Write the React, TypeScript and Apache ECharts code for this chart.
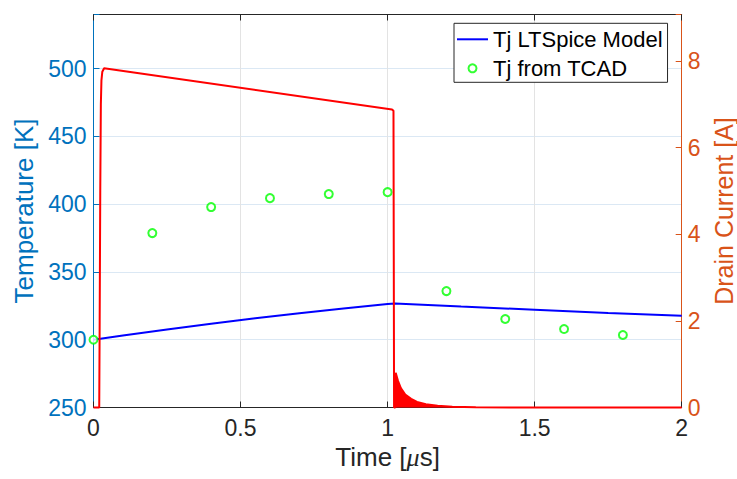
import React, { useEffect, useRef } from "react";
import * as echarts from "echarts";

// Axis tick values
const timeTicks = [0, 0.5, 1, 1.5, 2];
const tempTicks = [250, 300, 350, 400, 450, 500];
const currentTicks = [0, 2, 4, 6, 8];

// Tj from LTSpice model (time in µs, temperature in K)
const ltspiceTime = [0, 0.1, 0.25, 0.4, 0.55, 0.7, 0.85, 1.0, 1.025, 1.25, 1.5, 1.75, 2];
const ltspiceTemp = [300, 303.2, 307.6, 311.8, 315.8, 319.6, 323.1, 326.3, 326.8, 324.5, 322.1, 319.8, 317.7];

// Tj from TCAD
const tcadTime = [0, 0.2, 0.4, 0.6, 0.8, 1.0, 1.2, 1.4, 1.6, 1.8];
const tcadTemp = [300, 378.7, 397.9, 404.5, 407.5, 408.9, 335.9, 315.3, 307.9, 303.5];

// Drain current pulse (A)
const pulseTime = [0, 0.0195, 0.021, 0.023, 0.025, 0.027, 0.03, 0.036, 1.015, 1.02, 1.022, 1.027];
const pulseCurrent = [0, 0, 2, 5, 7.0, 7.55, 7.75, 7.83, 6.88, 6.85, 0, 0];

// Drain current tail after turn-off (A)
const tailTime = [1.027, 1.0275, 1.035, 1.045, 1.06, 1.08, 1.1, 1.13, 1.17, 1.22, 1.3, 1.5, 2];
const tailCurrent = [0, 0.8, 0.62, 0.45, 0.3, 0.2, 0.13, 0.075, 0.04, 0.018, 0.006, 0, 0];

const zip = (xs: number[], ys: number[]) => xs.map((x, i) => [x, ys[i]]);

const FONT = "'Liberation Sans', Arial, Helvetica, sans-serif";
const BLUE_AX = "#0072BD";
const ORANGE_AX = "#D95319";
const DARK = "#262626";

export default function App() {
  const ref = useRef<HTMLDivElement>(null);
  useEffect(() => {
    document.body.style.margin = "0";
    document.body.style.overflow = "hidden";
    if (!ref.current) return;
    const chart = echarts.init(ref.current, undefined, { renderer: "svg", width: 737, height: 479 });
    const option: any = {
      animation: false,
      backgroundColor: "#ffffff",
      textStyle: { fontFamily: FONT },
      grid: {
        left: 93.5,
        top: 14.5,
        width: 588.2,
        height: 393,
        containLabel: false,
        outerBoundsMode: "none",
      },
      legend: {
        data: [
          { name: "Tj LTSpice Model", icon: "path://M0,0 H31 V2 H0 Z", itemStyle: { color: "#0000FF" } },
          { name: "Tj from TCAD" },
        ],
        orient: "vertical",
        left: 454,
        top: 23.3,
        padding: [5, 5, 3, 3],
        itemGap: 7,
        itemWidth: 31,
        itemHeight: 8,
        backgroundColor: "#ffffff",
        borderColor: DARK,
        borderWidth: 1,
        borderRadius: 0,
        textStyle: { fontSize: 22, color: "#000000", fontFamily: FONT },
      },
      xAxis: [
        {
          type: "value",
          position: "bottom",
          min: timeTicks[0],
          max: timeTicks[timeTicks.length - 1],
          interval: 0.5,
          axisLine: { show: true, onZero: false, lineStyle: { color: DARK, width: 1 } },
          axisTick: { show: true, inside: true, length: 6, lineStyle: { color: DARK } },
          axisLabel: { color: DARK, fontSize: 23, margin: 9, fontFamily: FONT },
          splitLine: { show: true, lineStyle: { color: "#e3e3e3", width: 1 } },
          name: "Time [{mu|μ}s]",
          nameLocation: "middle",
          nameGap: 18,
          nameTextStyle: {
            color: DARK,
            fontSize: 26,
            fontFamily: FONT,
            rich: {
              mu: { fontStyle: "italic", fontFamily: "'Liberation Serif', 'DejaVu Serif', serif", fontSize: 26, color: DARK },
            },
          },
        },
        {
          type: "value",
          position: "top",
          min: timeTicks[0],
          max: timeTicks[timeTicks.length - 1],
          interval: 0.5,
          axisLine: { show: true, onZero: false, lineStyle: { color: DARK, width: 1 } },
          axisTick: { show: true, inside: true, length: 6, lineStyle: { color: DARK } },
          axisLabel: { show: false },
          splitLine: { show: false },
        },
      ],
      yAxis: [
        {
          type: "value",
          position: "left",
          min: tempTicks[0],
          max: 540,
          interval: 50,
          axisLine: { show: true, onZero: false, lineStyle: { color: BLUE_AX, width: 1 } },
          axisTick: { show: true, inside: true, length: 6, lineStyle: { color: BLUE_AX } },
          axisLabel: {
            color: BLUE_AX,
            fontSize: 23,
            margin: 7,
            fontFamily: FONT,
            formatter: (v: number) => (tempTicks.includes(v) ? String(v) : ""),
          },
          splitLine: { show: true, lineStyle: { color: "#dbe8f4", width: 1 } },
          name: "Temperature [K]",
          nameLocation: "middle",
          nameRotate: 90,
          nameGap: 53,
          nameTextStyle: { color: BLUE_AX, fontSize: 26, fontFamily: FONT },
        },
        {
          type: "value",
          position: "right",
          min: currentTicks[0],
          max: 9.07,
          interval: 2,
          axisLine: { show: true, onZero: false, lineStyle: { color: ORANGE_AX, width: 1 } },
          axisTick: { show: true, inside: true, length: 6, lineStyle: { color: ORANGE_AX } },
          axisLabel: {
            color: ORANGE_AX,
            fontSize: 23,
            margin: 6,
            fontFamily: FONT,
            formatter: (v: number) => (currentTicks.includes(v) ? String(v) : ""),
          },
          splitLine: { show: false },
          name: "Drain Current [A]",
          nameLocation: "middle",
          nameRotate: 90,
          nameGap: 27,
          nameTextStyle: { color: ORANGE_AX, fontSize: 25, fontFamily: FONT },
        },
      ],
      series: [
        {
          name: "Tj LTSpice Model",
          type: "line",
          xAxisIndex: 0,
          yAxisIndex: 0,
          data: zip(ltspiceTime, ltspiceTemp),
          symbol: "none",
          lineStyle: { color: "#0000FF", width: 2 },
          itemStyle: { color: "#0000FF" },
          z: 3,
        },
        {
          name: "Tj from TCAD",
          type: "scatter",
          xAxisIndex: 0,
          yAxisIndex: 0,
          data: zip(tcadTime, tcadTemp),
          symbol: "emptyCircle",
          symbolSize: 8,
          itemStyle: { color: "#00FF00", borderColor: "#00FF00", borderWidth: 2 },
          clip: false,
          z: 4,
        },
        {
          name: "Drain Current",
          type: "line",
          xAxisIndex: 0,
          yAxisIndex: 1,
          data: zip(pulseTime, pulseCurrent),
          symbol: "none",
          clip: false,
          lineStyle: { color: "#FF0000", width: 2 },
          itemStyle: { color: "#FF0000" },
          z: 5,
        },
        {
          name: "Drain Current Tail",
          type: "line",
          xAxisIndex: 0,
          yAxisIndex: 1,
          data: zip(tailTime, tailCurrent),
          symbol: "none",
          clip: false,
          lineStyle: { color: "#FF0000", width: 2 },
          itemStyle: { color: "#FF0000" },
          areaStyle: { color: "#FF0000", opacity: 1 },
          z: 5,
        },
      ],
    };
    chart.setOption(option);
    return () => chart.dispose();
  }, []);
  return <div ref={ref} style={{ width: 737, height: 479, background: "#fff" }} />;
}
